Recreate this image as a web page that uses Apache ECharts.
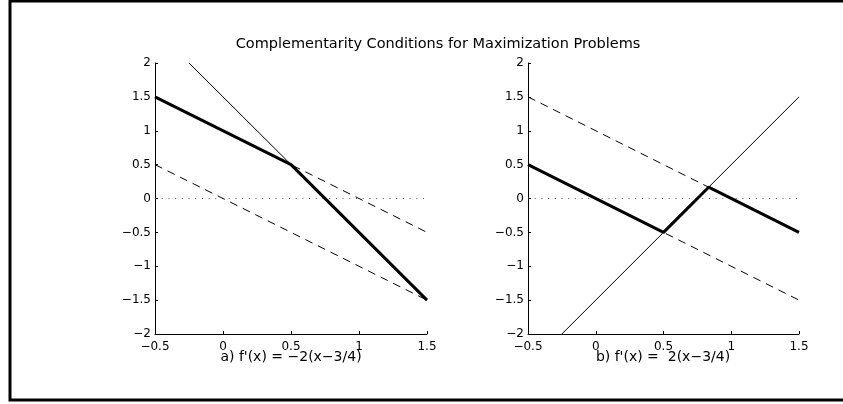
<!DOCTYPE html>
<html>
<head>
<meta charset="utf-8">
<script src="https://cdn.jsdelivr.net/npm/echarts@6/dist/echarts.min.js"></script>
<style>
html,body{margin:0;padding:0;background:#fff;}
#chart{width:843px;height:404px;}
</style>
</head>
<body>
<div id="chart"></div>
<script>
// ---- data ----
const mainTitle = "Complementarity Conditions for Maximization Problems";
const panelLabels = ["a) f'(x) = \u22122(x\u22123/4)", "b) f'(x) =  2(x\u22123/4)"];
const xTicks = [-0.5, 0, 0.5, 1, 1.5];
const yTicks = [-2, -1.5, -1, -0.5, 0, 0.5, 1, 1.5, 2];
const zeroLine = [[-0.5, 0], [1.5, 0]];
const upperBound = [[-0.5, 1.5], [1.5, -0.5]];   // y = 1 - x
const lowerBound = [[-0.5, 0.5], [1.5, -1.5]];   // y = -x
const leftDeriv = [[-0.25, 2], [1.5, -1.5]];     // f'(x) = -2(x-3/4)
const leftSolution = [[-0.5, 1.5], [0.5, 0.5], [1.5, -1.5]];
const rightDeriv = [[-0.25, -2], [1.5, 1.5]];    // f'(x) = 2(x-3/4)
const rightSolution = [[-0.5, 0.5], [0.5, -0.5], [0.8333, 0.1667], [1.5, -0.5]];

const FONT = "DejaVu Sans";
const fmt = v => String(v).replace('-', '\u2212');

function xAx(i) {
  return {
    type: 'value', gridIndex: i, min: xTicks[0], max: xTicks[xTicks.length - 1], interval: 0.5,
    axisLine: { show: true, onZero: false, lineStyle: { color: '#000', width: 1 } },
    axisTick: { show: true, inside: true, length: 3, lineStyle: { color: '#000' } },
    axisLabel: { formatter: fmt, color: '#000', fontFamily: FONT, fontSize: 12, margin: 7 },
    splitLine: { show: false }
  };
}
function yAx(i) {
  return {
    type: 'value', gridIndex: i, min: yTicks[0], max: yTicks[yTicks.length - 1], interval: 0.5,
    axisLine: { show: true, onZero: false, lineStyle: { color: '#000', width: 1 } },
    axisTick: { show: true, inside: true, length: 3, lineStyle: { color: '#000' } },
    axisLabel: { formatter: fmt, color: '#000', fontFamily: FONT, fontSize: 12, margin: 4 },
    splitLine: { show: false }
  };
}
function ln(data, idx, style, z) {
  return {
    type: 'line', data: data, xAxisIndex: idx, yAxisIndex: idx,
    showSymbol: false, symbol: 'none', silent: true, animation: false,
    lineStyle: style, z: z, clip: true
  };
}
const dotted = { color: '#555', width: 1, type: [1, 5.7] };
const dashed = { color: '#000', width: 1, type: [8, 6] };
const thin = { color: '#000', width: 1 };
const thick = { color: '#000', width: 3 };

const chart = echarts.init(document.getElementById('chart'));
chart.setOption({
  animation: false,
  backgroundColor: '#fff',
  title: [
    { text: mainTitle, left: 438, top: 37, textAlign: 'center', padding: 0,
      textStyle: { fontFamily: FONT, fontSize: 14.5, fontWeight: 'normal', color: '#000' } },
    { text: panelLabels[0], left: 291, top: 350, textAlign: 'center', padding: 0,
      textStyle: { fontFamily: FONT, fontSize: 14, fontWeight: 'normal', color: '#000' } },
    { text: panelLabels[1], left: 663, top: 350, textAlign: 'center', padding: 0,
      textStyle: { fontFamily: FONT, fontSize: 14, fontWeight: 'normal', color: '#000' } }
  ],
  grid: [
    { left: 155, top: 63, width: 272, height: 271 },
    { left: 528, top: 63, width: 271, height: 271 }
  ],
  xAxis: [xAx(0), xAx(1)],
  yAxis: [yAx(0), yAx(1)],
  graphic: [
    { type: 'rect', shape: { x: 10, y: 1, width: 900, height: 399 },
      style: { fill: null, stroke: '#000', lineWidth: 3 }, silent: true, z: 100 }
  ],
  series: [
    ln(zeroLine, 0, dotted, 1),
    ln(upperBound, 0, dashed, 2),
    ln(lowerBound, 0, dashed, 2),
    ln(leftDeriv, 0, thin, 3),
    ln(leftSolution, 0, thick, 4),
    ln(zeroLine, 1, dotted, 1),
    ln(upperBound, 1, dashed, 2),
    ln(lowerBound, 1, dashed, 2),
    ln(rightDeriv, 1, thin, 3),
    ln(rightSolution, 1, thick, 4)
  ]
});
</script>
</body>
</html>
